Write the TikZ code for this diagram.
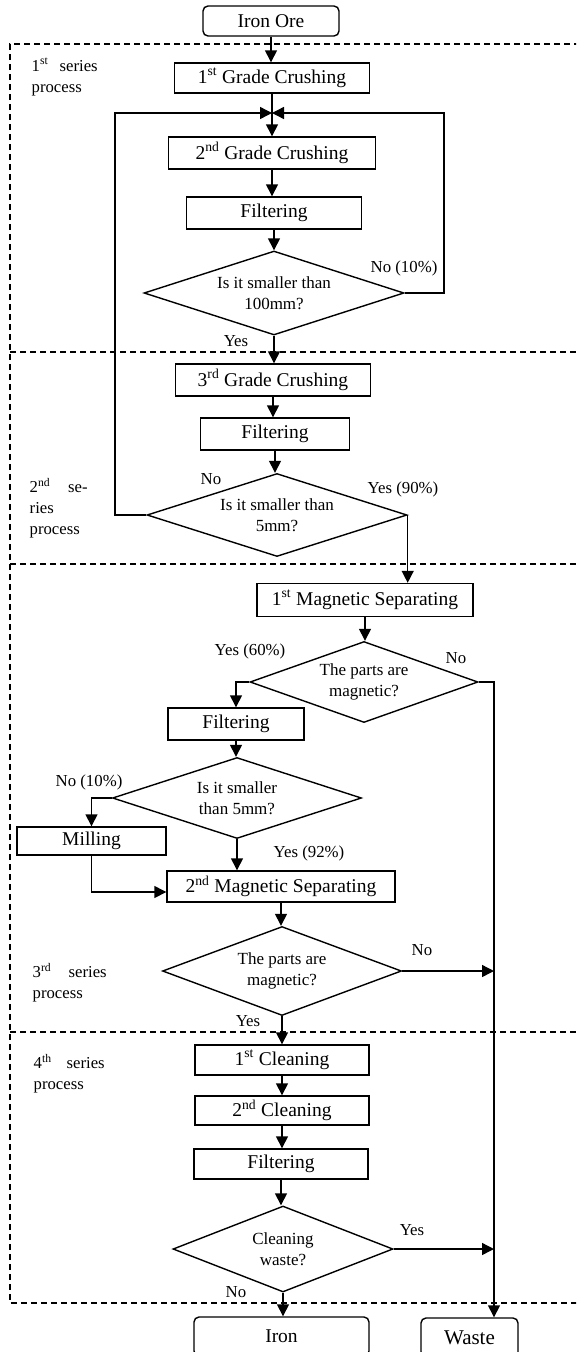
\documentclass[tikz,border=0pt]{standalone}
\usepackage{fontspec}
\setmainfont{Liberation Serif}
\usetikzlibrary{shapes.geometric,arrows.meta}
\begin{document}
\begin{tikzpicture}[x=1pt,y=-1pt,
  line width=1.4pt,
  box/.style={draw, fill=white, line width=1.4pt, inner sep=0pt, font=\fontsize{19.5}{22}\selectfont},
  term/.style={box, rounded corners=5pt},
  dec/.style={draw, fill=white, diamond, aspect=3, inner sep=0pt, align=center, font=\fontsize{17}{21}\selectfont},
  lbl/.style={inner sep=0pt, font=\fontsize{16.8}{20}\selectfont},
  side/.style={inner sep=0pt, anchor=west, align=left, font=\fontsize{16.7}{21}\selectfont},
  arr/.style={-{Triangle[length=12pt,width=12pt]}},
  dashframe/.style={dash pattern=on 6pt off 4pt, line width=1.3pt}
]
\clip (0,0) rectangle (576,1352);
% dashed frame
\draw[dashframe] (580,44) -- (10,44) -- (10,1303) -- (580,1303);
\draw[dashframe] (10,352) -- (580,352);
\draw[dashframe] (10,564) -- (580,564);
\draw[dashframe] (10,1032) -- (580,1032);

% nodes
\node[term, minimum width=136pt, minimum height=30pt] (ore) at (271,21) {Iron Ore};
\node[box, minimum width=195pt, minimum height=30pt] (c1) at (272,78) {1\textsuperscript{st} Grade Crushing};
\node[box, minimum width=207pt, minimum height=32pt] (c2) at (272,153) {2\textsuperscript{nd} Grade Crushing};
\node[box, minimum width=175pt, minimum height=32pt] (f1) at (274,213) {Filtering};
\node[dec, minimum width=260pt, minimum height=84pt] (d1) at (274,293) {Is it smaller than\\100mm?};
\node[box, minimum width=195pt, minimum height=32pt] (c3) at (273,380) {3\textsuperscript{rd} Grade Crushing};
\node[box, minimum width=149pt, minimum height=32pt] (f2) at (275,434) {Filtering};
\node[dec, minimum width=260pt, minimum height=83pt] (d2) at (277,515) {Is it smaller than\\5mm?};
\node[box, minimum width=216pt, minimum height=33pt] (ms1) at (365,600) {1\textsuperscript{st} Magnetic Separating};
\node[dec, minimum width=228pt, minimum height=81pt] (d3) at (364,682) {The parts are\\magnetic?};
\node[box, minimum width=136pt, minimum height=32pt] (f3) at (236,724) {Filtering};
\node[dec, minimum width=249pt, minimum height=81pt] (d4) at (237,798) {Is it smaller\\than 5mm?};
\node[box, minimum width=149pt, minimum height=28pt] (mill) at (91.5,841) {Milling};
\node[box, minimum width=228pt, minimum height=31pt] (ms2) at (281,886.5) {2\textsuperscript{nd} Magnetic Separating};
\node[dec, minimum width=239pt, minimum height=89pt] (d5) at (282,971) {The parts are\\magnetic?};
\node[box, minimum width=174pt, minimum height=30pt] (cl1) at (282,1060) {1\textsuperscript{st} Cleaning};
\node[box, minimum width=174pt, minimum height=29pt] (cl2) at (282,1110.5) {2\textsuperscript{nd} Cleaning};
\node[box, minimum width=174pt, minimum height=30pt] (f4) at (281,1164) {Filtering};
\node[dec, minimum width=220pt, minimum height=86pt] (d6) at (283,1249) {Cleaning\\waste?};
\node[term, minimum width=175pt, minimum height=39pt] (iron) at (281.5,1336.5) {Iron};
\node[term, minimum width=97pt, minimum height=39pt, font=\fontsize{21}{24}\selectfont] (waste) at (469.5,1337.5) {Waste};

% helper coordinates
\coordinate (J) at (272,113);
\coordinate (L) at (115,113);
\coordinate (R) at (444,113);
\coordinate (W) at (494,682);

% connectors
\draw[arr] (ore.south) -- (ore.south |- c1.north);
\draw[arr] (c1.south) -- (c1.south |- c2.north);
\draw[arr] (d1.east) -| (R) -- (J);
\draw[arr] (d2.west) -| (L) -- (J);
\draw[arr] (c2.south) -- (c2.south |- f1.north);
\draw[arr] (f1.south) -- (f1.south |- d1.north);
\draw[arr] (d1.south) -- (d1.south |- c3.north);
\draw[arr] (c3.south) -- (c3.south |- f2.north);
\draw[arr] (f2.south) -- (f2.south |- d2.north);
\draw[arr] (d2.east) -- (d2.east |- ms1.north);
\draw[arr] (ms1.south) -- (ms1.south |- d3.north);
\draw[arr] (d3.west) -| (f3.north);
\draw[arr] (f3.south) -- (f3.south |- d4.north);
\draw[arr] (d4.west) -| (mill.north);
\draw[arr] (mill.south) |- ([yshift=-5.5pt]ms2.west);
\draw[arr] (d4.south) -- (d4.south |- ms2.north);
\draw[arr] (ms2.south) -- (ms2.south |- d5.north);
\draw[arr] (d5.south) -- (d5.south |- cl1.north);
\draw[arr] (cl1.south) -- (cl1.south |- cl2.north);
\draw[arr] (cl2.south) -- (cl2.south |- f4.north);
\draw[arr] (f4.south) -- (f4.south |- d6.north);
\draw[arr] (d6.south) -- (d6.south |- iron.north);
\draw[arr] (d3.east) -- (W) -- (W |- waste.north);
\draw[arr] (d5.east) -- (W |- d5.east);
\draw[arr] (d6.east) -- (W |- d6.east);

% connector labels
\node[lbl] (l1) at (404,268) {No (10\%)};
\node[lbl] (l2) at (236,341) {Yes};
\node[lbl] (l3) at (211,479) {No};
\node[lbl] (l4) at (403,489) {Yes (90\%)};
\node[lbl] (l5) at (250,651) {Yes (60\%)};
\node[lbl] (l6) at (456,658) {No};
\node[lbl] (l7) at (89,782) {No (10\%)};
\node[lbl] (l8) at (309,853) {Yes (92\%)};
\node[lbl] (l9) at (422,950) {No};
\node[lbl] (l10) at (248,1021) {Yes};
\node[lbl] (l11) at (412,1230) {Yes};
\node[lbl] (l12) at (236,1292) {No};

% side labels
\node[side] (s1) at (31,77) {\makebox[66pt][s]{1\textsuperscript{st} series}\\process};
\node[side] (s2) at (29,508) {\makebox[58pt][s]{2\textsuperscript{nd} se-}\\ries\\process};
\node[side] (s3) at (32,983) {\makebox[74pt][s]{3\textsuperscript{rd} series}\\process};
\node[side] (s4) at (33,1074) {\makebox[71pt][s]{4\textsuperscript{th} series}\\process};
\end{tikzpicture}
\end{document}
